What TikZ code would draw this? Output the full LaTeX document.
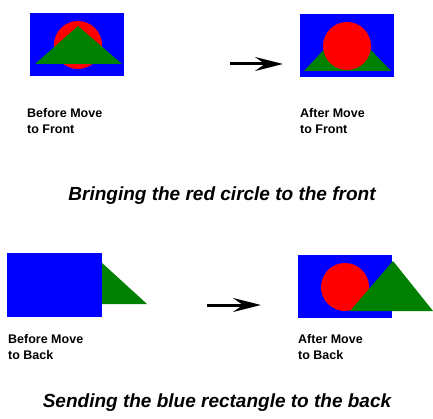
\documentclass[tikz,border=0pt]{standalone}
\usepackage{fontspec}
\setmainfont{Liberation Sans}
\usetikzlibrary{arrows.meta}
\definecolor{pblue}{RGB}{0,0,255}
\definecolor{pred}{RGB}{255,0,0}
\definecolor{pgreen}{RGB}{0,128,0}
\begin{document}
\begin{tikzpicture}[x=1pt,y=-1pt,
  lbl/.style={anchor=north west,align=left,inner sep=0pt,font=\fontsize{12.5}{16}\selectfont\bfseries},
  captext/.style={anchor=center,inner sep=0pt,font=\fontsize{19}{22}\selectfont\bfseries\itshape},
  bigarrow/.style={line width=3pt,-{Stealth[length=28pt,width=14pt,inset=10pt]}}]
\useasboundingbox[fill=white] (0,0) rectangle (433,419);
% top-left: before move to front
\fill[pblue] (30,13) rectangle (124,76);
\fill[pred] (78,45) circle[radius=24];
\fill[pgreen] (35,64) -- (78,26) -- (122,64) -- cycle;
% top-right: after move to front
\fill[pblue] (300,14) rectangle (394,77);
\fill[pgreen] (304,71) -- (347,25) -- (391,71) -- cycle;
\fill[pred] (347,46) circle[radius=24];
% arrow 1
\coordinate (a1s) at (230,64);
\coordinate (a1e) at (283,64);
\draw[bigarrow] (a1s) -- (a1e);
\node[lbl] (l1) at (27,108) {Before Move\\to Front};
\node[lbl] (l2) at (300,108) {After Move\\to Front};
\node[captext] (c1) at (222,196) {Bringing the red circle to the front};
% bottom-left: before move to back
\fill[pgreen] (58,304) -- (101,262) -- (147,304) -- cycle;
\fill[pblue] (7,253) rectangle (102,317);
% bottom-right: after move to back
\fill[pblue] (298,255) rectangle (392,318);
\fill[pred] (345,287) circle[radius=24];
\fill[pgreen] (350,311) -- (393,261) -- (433,311) -- cycle;
% arrow 2
\coordinate (a2s) at (207,305);
\coordinate (a2e) at (261,305);
\draw[bigarrow] (a2s) -- (a2e);
\node[lbl] (l3) at (8,334) {Before Move\\to Back};
\node[lbl] (l4) at (298,334) {After Move\\to Back};
\node[captext] (c2) at (217,403) {Sending the blue rectangle to the back};
\end{tikzpicture}
\end{document}
